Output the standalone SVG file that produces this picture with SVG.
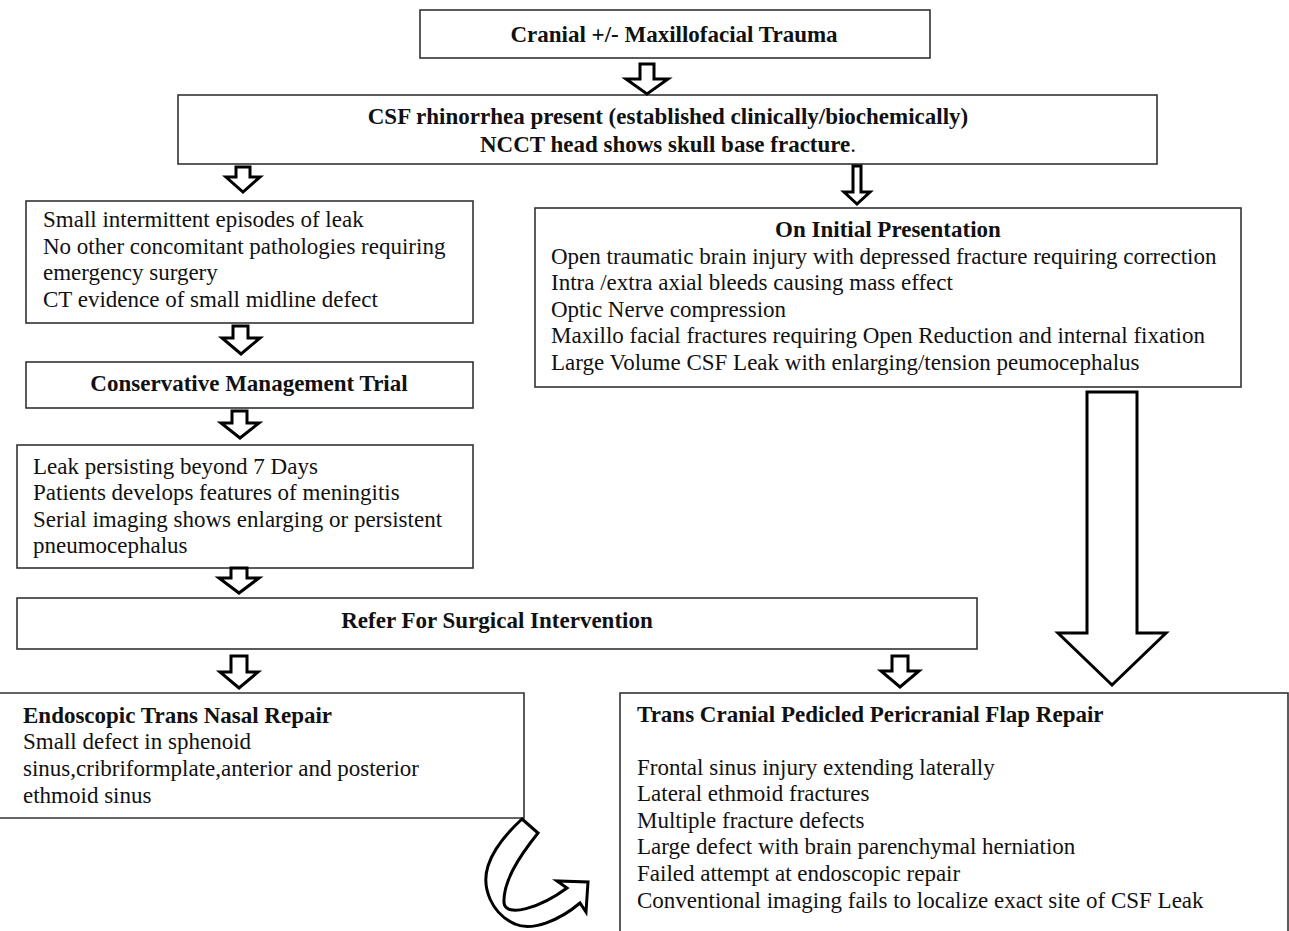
<svg xmlns="http://www.w3.org/2000/svg" width="1289" height="931" viewBox="0 0 1289 931">
<style>
.box{fill:#fff;stroke:#333;stroke-width:1.6}
.t{font-family:"Liberation Serif","Times New Roman",serif;font-size:23px;fill:#111}
.b{font-weight:bold}
.c{text-anchor:middle}
.arr{fill:#fff;stroke:#000;stroke-width:3;stroke-linejoin:miter}
</style>
<rect width="1289" height="931" fill="#fff"/>
<g id="n1"><rect class="box" x="420" y="10" width="510" height="48"/>
<text class="t b c" x="674" y="42" font-size="25.5">Cranial +/- Maxillofacial Trauma</text></g>
<g id="n2"><rect class="box" x="178" y="95" width="979" height="69"/>
<text class="t b c" x="668" y="124">CSF rhinorrhea present (established clinically/biochemically)</text>
<text class="t b c" x="668" y="152">NCCT head shows skull base fracture<tspan font-weight="normal">.</tspan></text></g>
<g id="n3"><rect class="box" x="26" y="201" width="447" height="122"/>
<text class="t" x="43" y="227">Small intermittent episodes of leak</text>
<text class="t" x="43" y="254">No other concomitant pathologies requiring</text>
<text class="t" x="43" y="280">emergency surgery</text>
<text class="t" x="43" y="307">CT evidence of small midline defect</text></g>
<g id="n4"><rect class="box" x="535" y="208" width="706" height="179"/>
<text class="t b c" x="888" y="237">On Initial Presentation</text>
<text class="t" x="551" y="264">Open traumatic brain injury with depressed fracture requiring correction</text>
<text class="t" x="551" y="290">Intra /extra axial bleeds causing mass effect</text>
<text class="t" x="551" y="317">Optic Nerve compression</text>
<text class="t" x="551" y="343">Maxillo facial fractures requiring Open Reduction and internal fixation</text>
<text class="t" x="551" y="370">Large Volume CSF Leak with enlarging/tension peumocephalus</text></g>
<g id="n5"><rect class="box" x="26" y="362" width="447" height="46"/>
<text class="t b c" x="249" y="391">Conservative Management Trial</text></g>
<g id="n6"><rect class="box" x="17" y="445" width="456" height="123"/>
<text class="t" x="33" y="474">Leak persisting beyond 7 Days</text>
<text class="t" x="33" y="500">Patients develops features of meningitis</text>
<text class="t" x="33" y="527">Serial imaging shows enlarging or persistent</text>
<text class="t" x="33" y="553">pneumocephalus</text></g>
<g id="n7"><rect class="box" x="17" y="598" width="960" height="51"/>
<text class="t b c" x="497" y="628">Refer For Surgical Intervention</text></g>
<g id="n8"><path class="box" d="M-2,693 H524 V818 H-2"/>
<text class="t b" x="23" y="723">Endoscopic Trans Nasal Repair</text>
<text class="t" x="23" y="749">Small defect in sphenoid</text>
<text class="t" x="23" y="776">sinus,cribriformplate,anterior and posterior</text>
<text class="t" x="23" y="803">ethmoid sinus</text></g>
<g id="n9"><rect class="box" x="620" y="693" width="668" height="250"/>
<text class="t b" x="637" y="722">Trans Cranial Pedicled Pericranial Flap Repair</text>
<text class="t" x="637" y="775">Frontal sinus injury extending laterally</text>
<text class="t" x="637" y="801">Lateral ethmoid fractures</text>
<text class="t" x="637" y="828">Multiple fracture defects</text>
<text class="t" x="637" y="854">Large defect with brain parenchymal herniation</text>
<text class="t" x="637" y="881">Failed attempt at endoscopic repair</text>
<text class="t" x="637" y="908">Conventional imaging fails to localize exact site of CSF Leak</text></g>
<g id="connectors">
<path class="arr" d="M640,64 H654 V79 H668 L647,94 L626,79 H640 Z"/>
<path class="arr" d="M236,167 H250 V177 H260 L243,192 L226,177 H236 Z"/>
<path class="arr" d="M853,166 H861 V192 H870 L857,204 L844,192 H853 Z" stroke-width="2.5"/>
<path class="arr" d="M233,326 H248 V338 H260 L241,354 L222,338 H233 Z"/>
<path class="arr" d="M232,411 H247 V423 H259 L240,438 L221,423 H232 Z"/>
<path class="arr" d="M231,568 H247 V578 H259 L239,593 L219,578 H231 Z"/>
<path class="arr" d="M231,656 H247 V672 H258 L239,688 L220,672 H231 Z"/>
<path class="arr" d="M892,656 H908 V671 H919 L900,687 L881,671 H892 Z"/>
<path class="arr" d="M1087,392 H1137 V633 H1166 L1112,685 L1058,633 H1087 Z" stroke-width="4"/>
<path class="arr" d="M522,819 L538,833 C518,858 503,882 504,903 C506,918 540,908 567,888 L557,881 L588,882 L586,912 L580,903 C560,920 532,932 515,924 C492,914 481,888 488,866 C494,847 508,832 522,819 Z"/>
</g>
</svg>
